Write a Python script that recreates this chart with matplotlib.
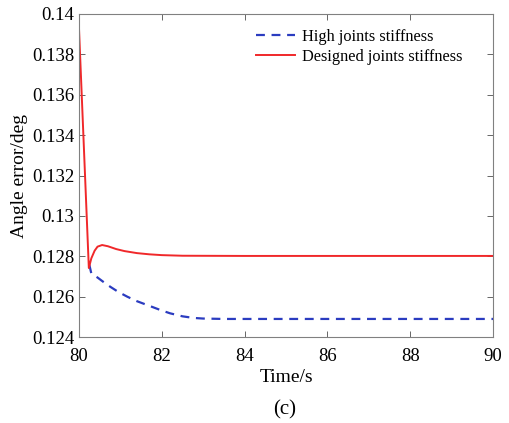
import numpy as np
import matplotlib.pyplot as plt

plt.rcParams["font.family"] = ["Liberation Serif", "DejaVu Serif"]

# time samples (s) and angle error (deg)
t_high = [80.25, 80.3, 80.45, 80.6, 80.76, 80.95, 81.17, 81.4, 81.7, 81.97,
          82.2, 82.5, 82.77, 83.0, 83.5, 84.0, 86.0, 88.0, 90.0]
err_high = [0.1276, 0.12715, 0.12695, 0.12672, 0.12649, 0.12624, 0.12600,
            0.12578, 0.12555, 0.12534, 0.12518, 0.12503, 0.12495, 0.12492,
            0.12490, 0.12490, 0.12490, 0.12490, 0.12490]

t_design = [80.0, 80.24, 80.3, 80.38, 80.45, 80.56, 80.7, 80.9, 81.1, 81.4,
            81.7, 82.0, 82.5, 84.0, 86.0, 88.0, 90.0]
err_design = [0.1394, 0.12742, 0.12790, 0.12828, 0.12848, 0.12856, 0.12850,
              0.12836, 0.12826, 0.12816, 0.12810, 0.12806, 0.12803, 0.12802,
              0.12802, 0.12802, 0.12802]

x_ticks = [80, 82, 84, 86, 88, 90]
y_ticks = [0.124, 0.126, 0.128, 0.13, 0.132, 0.134, 0.136, 0.138, 0.14]
y_tick_labels = ["0.124", "0.126", "0.128", "0.13", "0.132", "0.134",
                 "0.136", "0.138", "0.14"]

fig = plt.figure(figsize=(5.09, 4.23), dpi=100)
ax = fig.add_axes([0.155, 0.203, 0.814, 0.764])

ax.plot(t_high, err_high, color="#2b3cc0", lw=1.6, ls=(0, (4, 3)),
        label="High joints stiffness")
ax.plot(t_design, err_design, color="#f0282a", lw=1.4,
        label="Designed joints stiffness")

ax.set_xlim(80, 90)
ax.set_ylim(0.124, 0.14)
ax.set_xticks(x_ticks)
ax.set_yticks(y_ticks)
ax.set_yticklabels(y_tick_labels)
ax.tick_params(direction="in", top=True, right=True, labelsize=13.5,
               length=4, color="#666666", width=0.7)
ax.tick_params(axis="x", pad=8)
for s in ax.spines.values():
    s.set_color("#808080")
    s.set_linewidth(0.8)

ax.set_xlabel("Time/s", fontsize=14, labelpad=3)
ax.set_ylabel("Angle error/deg", fontsize=14, labelpad=3)
fig.text(0.56, 0.02, "(c)", ha="center", fontsize=15)

ax.legend(loc="upper right", frameon=False, fontsize=11.8, handlelength=2.4,
          handletextpad=0.4, borderaxespad=0, borderpad=0,
          labelspacing=0.25, bbox_to_anchor=(0.925, 0.955))

fig.savefig("out.png", dpi=100)
